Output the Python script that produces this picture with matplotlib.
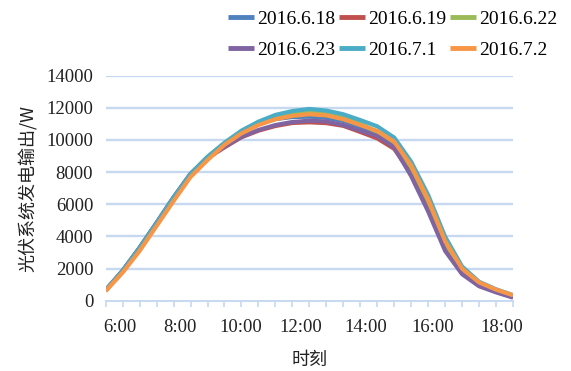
import matplotlib
matplotlib.use("Agg")
import matplotlib.pyplot as plt
import numpy as np

# ---------------- data ----------------
series_names = ["2016.6.18", "2016.6.19", "2016.6.22", "2016.6.23", "2016.7.1", "2016.7.2"]
colors = ["#4F81BD", "#C0504D", "#9BBB59", "#8064A2", "#4BACC6", "#F79646"]

s_0618 = [650, 1850, 3280, 4820, 6400, 7870, 8930, 9780, 10480, 10980, 11300, 11430, 11450,
          11380, 11180, 10820, 10330, 9700, 8200, 6050, 3450, 1880, 1040, 640, 290]
s_0619 = [640, 1840, 3260, 4800, 6380, 7830, 8870, 9540, 10170, 10580, 10870, 11060, 11100,
          11050, 10880, 10500, 10100, 9450, 7900, 5750, 3250, 1730, 940, 560, 220]
s_0622 = [660, 1870, 3300, 4850, 6430, 7900, 8950, 9800, 10550, 11100, 11500, 11720, 11750,
          11650, 11400, 11000, 10500, 9800, 8300, 6200, 3600, 1950, 1100, 660, 300]
s_0623 = [660, 1880, 3310, 4860, 6440, 7900, 8900, 9580, 10200, 10620, 10930, 11120, 11200,
          11150, 10930, 10580, 10250, 9550, 7750, 5550, 3100, 1650, 900, 520, 190]
s_0701 = [650, 1850, 3280, 4830, 6420, 7880, 8950, 9830, 10580, 11140, 11560, 11800, 11930,
          11830, 11600, 11240, 10850, 10150, 8650, 6580, 3980, 2130, 1180, 710, 350]
s_0702 = [600, 1750, 3100, 4650, 6200, 7700, 8750, 9700, 10410, 10930, 11290, 11500, 11600,
          11530, 11290, 10930, 10560, 9900, 8420, 6320, 3720, 2000, 1140, 690, 340]

all_series = [s_0618, s_0619, s_0622, s_0623, s_0701, s_0702]

tick_label_text = ["6:00", "8:00", "10:00", "12:00", "14:00", "16:00", "18:00"]
tick_label_pos = [0.84, 4.40, 7.94, 11.52, 15.35, 19.24, 23.35]

yticks = [0, 2000, 4000, 6000, 8000, 10000, 12000, 14000]

# ---------------- figure ----------------
fig = plt.figure(figsize=(5.71, 3.71), dpi=100)
ax = fig.add_axes([105.7 / 571, 1 - 300.7 / 371, (513 - 105.7) / 571, (300.7 - 75.7) / 371])

serif = ["Liberation Serif", "DejaVu Serif"]
cjk = ["Noto Sans CJK SC", "DejaVu Sans"]
grid_color = "#C6D9F1"

x = np.arange(len(s_0618))
handles = []
for name, col, vals in zip(series_names, colors, all_series):
    h, = ax.plot(x, vals, color=col, lw=3.0, solid_capstyle="butt", solid_joinstyle="round",
                 label=name, zorder=3)
    handles.append(h)

ax.set_xlim(0, len(x) - 1)
ax.set_ylim(0, 14000)

for yv in yticks[1:]:
    ax.axhline(yv, color=grid_color, lw=1.7, zorder=1)

ax.set_yticks(yticks)
ax.set_yticklabels([str(v) for v in yticks], fontfamily=serif, fontsize=13.5, color="#222222")
ax.tick_params(axis="y", length=0, pad=9)

ax.set_xticks(tick_label_pos)
ax.set_xticklabels(tick_label_text, fontfamily=serif, fontsize=13.5, color="#222222")
ax.set_xticks(x, minor=True)
ax.tick_params(axis="x", which="major", length=0, pad=13)
ax.tick_params(axis="x", which="minor", length=4, width=1.2, color=grid_color)

for sp in ["top", "right", "left"]:
    ax.spines[sp].set_visible(False)
ax.spines["bottom"].set_color(grid_color)
ax.spines["bottom"].set_linewidth(1.4)

ax.set_ylabel("光伏系统发电输出/W", fontfamily=cjk, fontsize=13, color="#222222", labelpad=6)
ax.set_xlabel("时刻", fontfamily=cjk, fontsize=13, color="#222222", labelpad=11)

order = [0, 3, 1, 4, 2, 5]
leg = fig.legend([handles[i] for i in order], [series_names[i] for i in order],
                 ncol=3, loc="upper left", bbox_to_anchor=(222 / 571, 0.989),
                 frameon=False, prop={"family": serif, "size": 14},
                 handlelength=1.35, handletextpad=0.15, columnspacing=0.2,
                 labelspacing=0.72, borderaxespad=0.1, borderpad=0.2)
for lh in leg.get_lines():
    lh.set_linewidth(3.5)

fig.savefig("out.png", dpi=100)
